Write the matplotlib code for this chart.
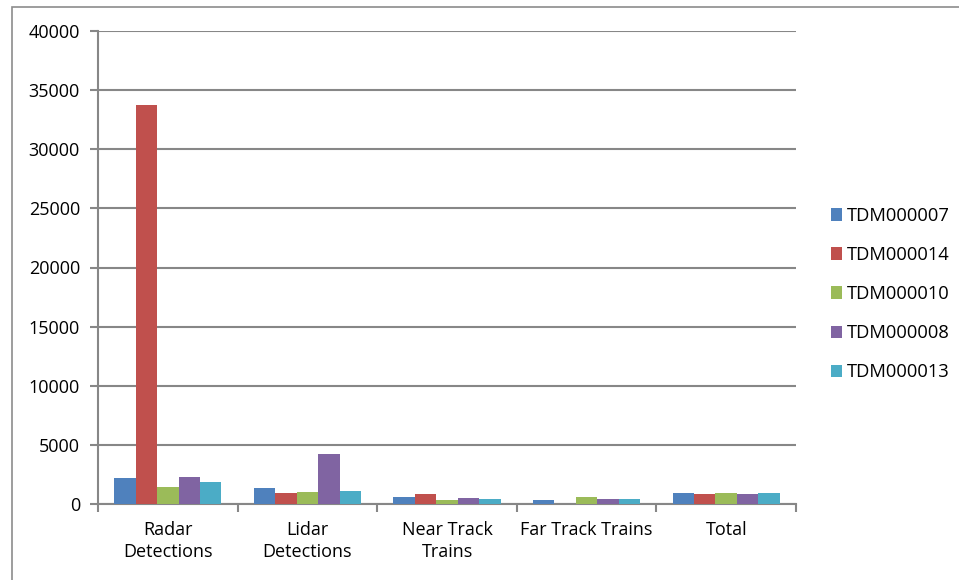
import numpy as np
import matplotlib.pyplot as plt
from matplotlib.patches import Patch, Rectangle

plt.rcParams['font.family'] = ['Open Sans', 'DejaVu Sans']

# Data
categories = ['Radar\nDetections', 'Lidar\nDetections', 'Near Track\nTrains',
              'Far Track Trains', 'Total']
series = ['TDM000007', 'TDM000014', 'TDM000010', 'TDM000008', 'TDM000013']
tdm07 = [2180, 1330, 560, 370, 930]
tdm14 = [33750, 930, 870, 0, 870]
tdm10 = [1470, 1020, 340, 560, 930]
tdm08 = [2310, 4210, 510, 420, 850]
tdm13 = [1840, 1070, 420, 420, 930]
values = [tdm07, tdm14, tdm10, tdm08, tdm13]

colors = ['#4F81BD', '#C0504D', '#9BBB59', '#8064A2', '#4BACC6']
grid_col = '#878787'

fig = plt.figure(figsize=(9.59, 5.8), dpi=100)
ax = fig.add_axes([98 / 959, 1 - 504 / 580, (796 - 98) / 959, (504 - 31) / 580])

# outer chart border (runs off the right and bottom edges)
fig.patches.append(Rectangle((12 / 959, -0.2), 2.0, 1.2 - 7 / 580,
                             transform=fig.transFigure, fill=False,
                             edgecolor='#8C8C8C', linewidth=1.2, clip_on=False))

n = len(series)
x = np.arange(len(categories))
bar_w = 1 / 6.5
for i in range(n):
    offs = (i - (n - 1) / 2) * bar_w
    ax.bar(x + offs, values[i], width=bar_w, color=colors[i], zorder=3)

ax.set_xlim(-0.5, len(categories) - 0.5)
ax.set_ylim(0, 40000)
ax.set_yticks(np.arange(0, 40001, 5000))
ax.yaxis.grid(True, color=grid_col, linewidth=1.5, zorder=0)

ax.set_xticks(x)
ax.set_xticklabels(categories, fontsize=13, linespacing=1.3)
ax.set_xticks(np.arange(-0.5, len(categories)), minor=True)
ax.tick_params(axis='x', which='major', length=0, pad=12)
ax.tick_params(axis='x', which='minor', length=6, width=1.5, color=grid_col)
ax.tick_params(axis='y', length=6, width=1.5, color=grid_col, labelsize=13, pad=7)

for s in ['top', 'right']:
    ax.spines[s].set_visible(False)
for s in ['left', 'bottom']:
    ax.spines[s].set_color(grid_col)
    ax.spines[s].set_linewidth(1.5)

handles = [Patch(facecolor=c) for c in colors]
fig.legend(handles, series, loc='center left', bbox_to_anchor=(814 / 959, 1 - 294 / 580),
           frameon=False, fontsize=13.2, handlelength=0.65, handleheight=0.65,
           handletextpad=0.25, labelspacing=1.15)

fig.savefig('out.png', dpi=100)
